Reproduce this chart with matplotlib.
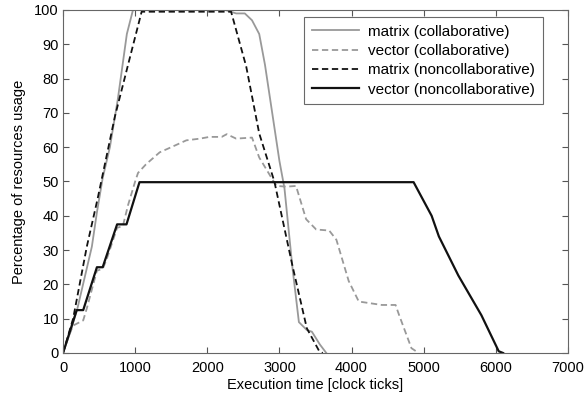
import numpy as np
import matplotlib
matplotlib.use("Agg")
import matplotlib.pyplot as plt

plt.rcParams['font.family'] = ['Liberation Sans', 'DejaVu Sans']

# matrix (collaborative)
mc_t = [0, 100, 200, 400, 470, 550, 650, 760, 885, 970, 1500, 2250, 2400, 2520, 2620, 2720, 2800,
        2900, 3000, 3070, 3180, 3270, 3380, 3450, 3560, 3650]
mc_y = [0, 6, 13, 31, 41, 51, 60, 74, 93, 100, 100, 100, 99, 99, 97, 93, 84,
        70, 56, 48, 25, 9, 6.7, 6.2, 2.5, 0]

# vector (collaborative)
vc_t = [0, 80, 140, 280, 330, 470, 550, 600, 750, 830, 900, 1000, 1040, 1150, 1340, 1500,
        1710, 1900, 2030, 2200, 2270, 2400, 2620, 2720, 2900, 2960, 3100, 3230, 3370,
        3510, 3690, 3790, 3960, 4100, 4420, 4610, 4660, 4830, 4930]
vc_y = [0, 5, 8, 9.5, 13, 24, 24.5, 27, 36.5, 37, 43, 50, 52.5, 55, 58.5, 60,
        62, 62.5, 63, 63, 63.8, 62.5, 62.8, 57, 50.7, 48.7, 48.5, 48.7, 39,
        36, 35.7, 33, 21, 15, 14, 14, 11, 1.4, 0]

# matrix (noncollaborative)
mn_t = [0, 140, 330, 480, 720, 950, 1090, 1500, 2000, 2330, 2540, 2720, 2930, 3180, 3380, 3550, 3600]
mn_y = [0, 10, 31, 45, 69, 88, 99.5, 99.5, 99.5, 99.5, 83.5, 64, 50, 25.5, 7.2, 0.6, 0]

# vector (noncollaborative)
vn_t = [0, 190, 280, 470, 550, 750, 880, 1060, 2000, 3000, 4000, 4860, 5110, 5210, 5480, 5800, 6040, 6100]
vn_y = [0, 12.5, 12.5, 25, 25, 37.5, 37.5, 49.8, 49.8, 49.8, 49.8, 49.8, 40, 34, 22.6, 11, 0.5, 0]

labels = ['matrix (collaborative)', 'vector (collaborative)',
          'matrix (noncollaborative)', 'vector (noncollaborative)']

fig = plt.figure(figsize=(5.85, 3.98), dpi=100)
ax = fig.add_axes([0.1077, 0.1131, 0.8632, 0.8618])

dash = (0, (3.5, 2))
ax.plot(mc_t, mc_y, color='#999999', lw=1.3, label=labels[0])
ax.plot(vc_t, vc_y, color='#999999', lw=1.3, ls=dash, label=labels[1])
ax.plot(mn_t, mn_y, color='#111111', lw=1.3, ls=dash, label=labels[2])
ax.plot(vn_t, vn_y, color='#111111', lw=1.6, label=labels[3])

ax.set_xlim(0, 7000)
ax.set_ylim(0, 100)
ax.set_xticks(np.arange(0, 7001, 1000))
ax.set_yticks(np.arange(0, 101, 10))
ax.tick_params(direction='in', top=True, right=True, labelsize=10.5, length=4,
               color='#555555', pad=3)
ax.tick_params(axis='x', pad=6)
for s in ax.spines.values():
    s.set_color('#666666')
    s.set_linewidth(0.8)
ax.set_xlabel('Execution time [clock ticks]', fontsize=10.5, labelpad=2)
ax.set_ylabel('Percentage of resources usage', fontsize=10.5, labelpad=6)

leg = ax.legend(loc='upper right', bbox_to_anchor=(0.9505, 0.9796), borderaxespad=0,
                fontsize=11, frameon=True, fancybox=False, handlelength=3.1,
                borderpad=0.5, labelspacing=0.35, handletextpad=0.6)
leg.get_frame().set_edgecolor('#444444')
leg.get_frame().set_linewidth(0.8)

fig.savefig('out.png', dpi=100)
